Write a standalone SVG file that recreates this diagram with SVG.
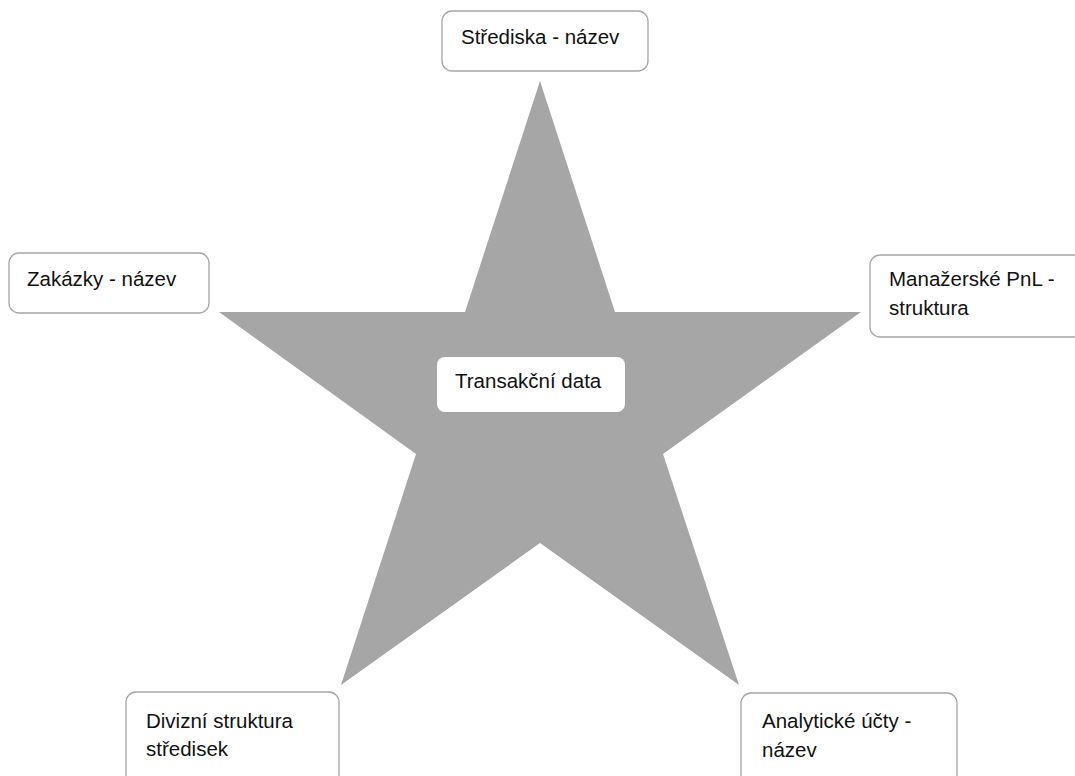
<svg xmlns="http://www.w3.org/2000/svg" width="1075" height="776" viewBox="0 0 1075 776">
  <style>
    .box { fill: #ffffff; stroke: #a6a6a6; stroke-width: 1.3; }
    .lbl { font-family: "Liberation Sans", Arial, sans-serif; font-size: 20.5px; fill: #111111; }
  </style>
  <rect x="0" y="0" width="1075" height="776" fill="#ffffff"/>

  <!-- five-pointed star backdrop -->
  <polygon id="star" fill="#a6a6a6"
    points="540,81 615,312 861,312 663,454 739,685 540,543 341,685 416,454 219,312 465,312"/>

  <g id="connectors"></g>

  <g id="center">
    <rect x="437" y="357" width="188" height="55" rx="8" fill="#ffffff"/>
    <text class="lbl" x="455" y="388">Transakční data</text>
  </g>

  <g id="node-strediska">
    <rect class="box" x="442" y="11" width="206" height="60" rx="10"/>
    <text class="lbl" x="461" y="44">Střediska - název</text>
  </g>

  <g id="node-zakazky">
    <rect class="box" x="9" y="253" width="200" height="60" rx="10"/>
    <text class="lbl" x="27" y="286">Zakázky - název</text>
  </g>

  <g id="node-pnl">
    <rect class="box" x="870" y="255" width="220" height="82" rx="10"/>
    <text class="lbl" x="889" y="286">Manažerské PnL -</text>
    <text class="lbl" x="889" y="315">struktura</text>
  </g>

  <g id="node-divize">
    <rect class="box" x="126" y="692" width="213" height="100" rx="10"/>
    <text class="lbl" x="146" y="728">Divizní struktura</text>
    <text class="lbl" x="146" y="756">středisek</text>
  </g>

  <g id="node-ucty">
    <rect class="box" x="741" y="693" width="216" height="100" rx="10"/>
    <text class="lbl" x="762" y="728">Analytické účty -</text>
    <text class="lbl" x="762" y="757">název</text>
  </g>
</svg>
